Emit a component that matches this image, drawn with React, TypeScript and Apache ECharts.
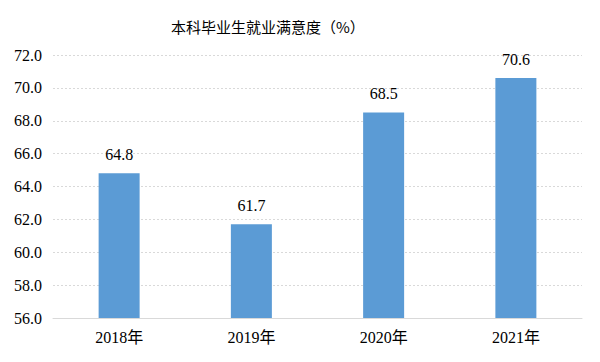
import React, { useEffect, useRef } from "react";
import * as echarts from "echarts";

const categories = ["2018年", "2019年", "2020年", "2021年"];
const values = [64.8, 61.7, 68.5, 70.6];
const titleText = "本科毕业生就业满意度（%）";

const SERIF = "'Liberation Serif', 'Times New Roman', 'Noto Sans CJK SC', serif";

export default function App() {
  const ref = useRef<HTMLDivElement>(null);
  useEffect(() => {
    const chart = echarts.init(ref.current!, null, { renderer: "svg" });
    chart.setOption({
      animation: false,
      title: {
        text: titleText,
        left: 166,
        top: 14,
        textStyle: {
          fontFamily: "'Noto Sans CJK SC', sans-serif",
          fontSize: 15,
          fontWeight: "normal",
          color: "#000",
        },
      },
      grid: { left: 53, right: 18, top: 55, bottom: 44 },
      xAxis: {
        type: "category",
        data: categories,
        axisLine: { lineStyle: { color: "#d9d9d9" } },
        axisTick: { show: false },
        axisLabel: {
          fontFamily: SERIF,
          fontSize: 16,
          color: "#000",
          margin: 11,
        },
      },
      yAxis: {
        type: "value",
        min: 56,
        max: 72,
        interval: 2,
        axisLine: { show: false },
        axisTick: { show: false },
        splitLine: { lineStyle: { color: "#d9d9d9", type: [2, 2] } },
        axisLabel: {
          fontFamily: SERIF,
          fontSize: 16,
          color: "#000",
          margin: 11,
          formatter: (v: number) => v.toFixed(1),
        },
      },
      series: [
        {
          type: "bar",
          data: values,
          barWidth: 41,
          itemStyle: { color: "#5b9bd5" },
          label: {
            show: true,
            position: "top",
            distance: 11,
            fontFamily: SERIF,
            fontSize: 16,
            color: "#000",
            formatter: (p: any) => p.value.toFixed(1),
          },
        },
      ],
    });
    return () => chart.dispose();
  }, []);
  return <div ref={ref} style={{ width: 600, height: 362, margin: -8 }} />;
}
